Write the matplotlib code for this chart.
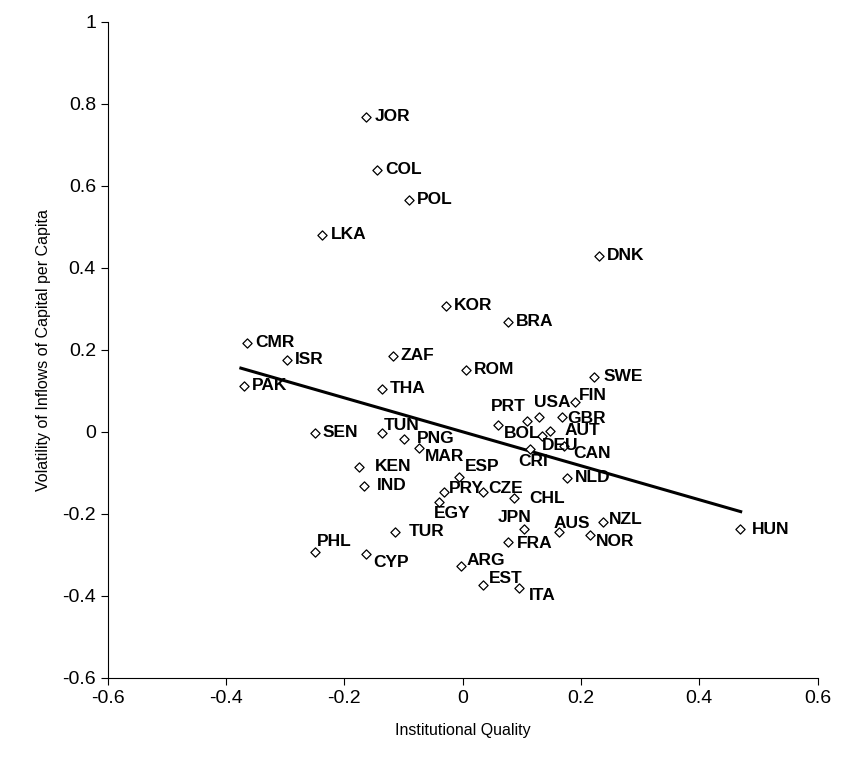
import matplotlib
matplotlib.use("Agg")
import matplotlib.pyplot as plt
import numpy as np

countries = ["JOR", "COL", "POL", "LKA", "DNK", "KOR", "BRA", "CMR", "ISR", "ZAF",
             "ROM", "SWE", "PAK", "THA", "FIN", "PRT", "USA", "GBR", "AUT", "BOL",
             "DEU", "CRI", "CAN", "SEN", "TUN", "PNG", "MAR", "ESP", "KEN", "IND",
             "NLD", "PRY", "CZE", "CHL", "EGY", "NZL", "JPN", "AUS", "NOR", "TUR",
             "HUN", "PHL", "CYP", "FRA", "ARG", "EST", "ITA"]
quality = [-0.163, -0.145, -0.091, -0.237, 0.230, -0.029, 0.076, -0.365, -0.297, -0.118,
           0.005, 0.222, -0.370, -0.136, 0.190, 0.108, 0.129, 0.168, 0.148, 0.059,
           0.134, 0.113, 0.171, -0.249, -0.136, -0.099, -0.074, -0.007, -0.175, -0.166,
           0.176, -0.032, 0.035, 0.087, -0.040, 0.237, 0.104, 0.163, 0.215, -0.114,
           0.469, -0.249, -0.163, 0.076, -0.003, 0.035, 0.096]
volatility = [0.768, 0.639, 0.566, 0.480, 0.429, 0.307, 0.268, 0.217, 0.176, 0.185,
              0.151, 0.134, 0.112, 0.105, 0.073, 0.027, 0.037, 0.037, 0.002, 0.017,
              -0.010, -0.041, -0.034, -0.002, -0.002, -0.017, -0.039, -0.110, -0.085, -0.132,
              -0.112, -0.146, -0.146, -0.161, -0.171, -0.220, -0.237, -0.244, -0.251, -0.244,
              -0.237, -0.293, -0.298, -0.268, -0.327, -0.373, -0.380]

# fitted line (slope, intercept) and its x range
fit_slope, fit_intercept = -0.414, 0.0
fit_x = [-0.375, 0.47]

# label offsets in pixels (dx, dy up); default is (8, 0)
offsets = {
    "PRT": (-36, 14), "USA": (-5, 14), "FIN": (4, 6), "GBR": (5, -2), "AUT": (14, 0),
    "DEU": (0, -10), "CRI": (-11, -13), "CAN": (9, -8), "BOL": (6, -9), "ESP": (6, 10),
    "PRY": (5, 3), "CZE": (5, 3), "CHL": (15, -1), "EGY": (-5, -12), "JPN": (-26, 12),
    "AUS": (-6, 8), "NOR": (6, -7), "FRA": (9, -2), "ARG": (6, 5), "EST": (5, 6),
    "ITA": (9, -8), "CYP": (7, -8), "PHL": (1, 10), "TUR": (14, 0), "NZL": (6, 3),
    "MAR": (6, -9), "PNG": (13, 0), "TUN": (2, 7), "KEN": (16, 0), "IND": (12, 0),
    "SEN": (7, 0), "HUN": (12, 0), "SWE": (10, 0),
}

plt.rcParams["font.family"] = ["Liberation Sans", "DejaVu Sans"]
fig = plt.figure(figsize=(8.42, 7.73), dpi=100)
ax = fig.add_axes([0.128, 0.123, 0.843, 0.849])

ax.scatter(quality, volatility, marker="D", s=22, facecolors="white",
           edgecolors="black", linewidths=0.9, zorder=3)
for name, x, y in zip(countries, quality, volatility):
    dx, dy = offsets.get(name, (8, 0))
    ax.annotate(name, (x, y), xytext=(dx, dy), textcoords="offset pixels",
                ha="left", va="center", fontsize=12.5, fontweight="bold", zorder=4)

fx = np.array(fit_x)
ax.plot(fx, fit_slope * fx + fit_intercept, color="black", linewidth=2.2, zorder=2)

ax.set_xlim(-0.6, 0.6)
ax.set_ylim(-0.6, 1.0)
ax.set_xticks(np.arange(-0.6, 0.61, 0.2))
ax.set_yticks(np.arange(-0.6, 1.01, 0.2))
ax.set_xticklabels(["-0.6", "-0.4", "-0.2", "0", "0.2", "0.4", "0.6"])
ax.set_yticklabels(["-0.6", "-0.4", "-0.2", "0", "0.2", "0.4", "0.6", "0.8", "1"])
ax.tick_params(labelsize=14, direction="out", length=5)
ax.spines["top"].set_visible(False)
ax.spines["right"].set_visible(False)
ax.set_xlabel("Institutional Quality", fontsize=11.5, labelpad=12)
ax.set_ylabel("Volatility of Inflows of Capital per Capita", fontsize=11.5, labelpad=8)
fig.savefig("out.png", dpi=100)
